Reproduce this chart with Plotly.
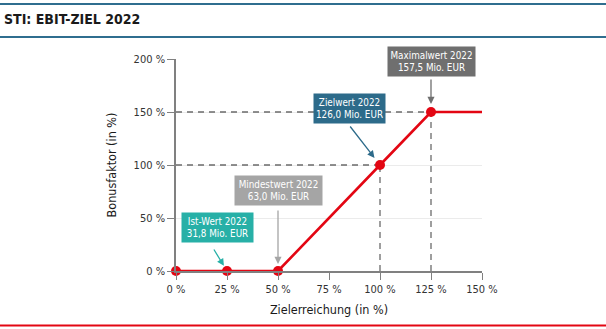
import plotly.graph_objects as go

# Data
x_achievement = [0, 25, 50, 100, 125, 150]
y_bonus = [0, 0, 0, 100, 150, 150]
marker_idx = [0, 1, 2, 3, 4]
x_ticks = [0, 25, 50, 75, 100, 125, 150]
y_ticks = [0, 50, 100, 150, 200]
x_tick_labels = ["0 %", "25 %", "50 %", "75 %", "100 %", "125 %", "150 %"]
y_tick_labels = ["0 %", "50 %", "100 %", "150 %", "200 %"]
labels = ["Ist-Wert 2022<br>31,8 Mio. EUR", "Mindestwert 2022<br>63,0 Mio. EUR",
          "Zielwert 2022<br>126,0 Mio. EUR", "Maximalwert 2022<br>157,5 Mio. EUR"]
label_points = [1, 2, 3, 4]  # indices into the curve

FONT = "Liberation Sans Narrow, DejaVu Sans Condensed, Arial Narrow, sans-serif"
RED = "#e30613"
W, H = 606, 329
L, R, T, B = 176, 124, 59, 58
PW, PH = W - L - R, H - T - B

def px_x(px):
    return (px - L) / PW

def px_y(py):
    return (H - B - py) / PH

fig = go.Figure()

# dashed guide lines for target and max points
tx, ty = x_achievement[3], y_bonus[3]
mx, my = x_achievement[4], y_bonus[4]
for xs, ys in [([0, tx], [ty, ty]), ([tx, tx], [0, ty]),
               ([0, mx], [my, my]), ([mx, mx], [0, my])]:
    fig.add_trace(go.Scatter(x=xs, y=ys, mode="lines", hoverinfo="skip",
                             line=dict(color="#6b6b6b", width=1.3, dash="6px,5px"),
                             showlegend=False, cliponaxis=False))

fig.add_trace(go.Scatter(x=x_achievement, y=y_bonus, mode="lines",
                         line=dict(color=RED, width=2.6), showlegend=False,
                         cliponaxis=False))
fig.add_trace(go.Scatter(x=[x_achievement[i] for i in marker_idx],
                         y=[y_bonus[i] for i in marker_idx], mode="markers",
                         marker=dict(color=RED, size=10), showlegend=False,
                         cliponaxis=False))

box_colors = ["#27b0a7", "#a5a5a5", "#2d6b8a", "#6f6f6f"]
box_w = [71, 87, 71, 87]
shifts = [(-9.5, 43.5), (0, 80.5), (-30.5, 57), (0.5, 51)]
arrows = [(-14, -23, 6), (0, -62, 7), (-31, -40, 9), (0, -34, 8)]

for i, lab in enumerate(labels):
    k = label_points[i]
    xv, yv = x_achievement[k], y_bonus[k]
    fig.add_annotation(x=xv, y=yv, xref="x", yref="y", text=lab, showarrow=False,
                       xshift=shifts[i][0], yshift=shifts[i][1],
                       bgcolor=box_colors[i], width=box_w[i], height=29,
                       borderpad=0, font=dict(family=FONT, size=9.8, color="white"),
                       align="center")
    ax, ay, so = arrows[i]
    fig.add_annotation(x=xv, y=yv, xref="x", yref="y", text="", showarrow=True,
                       ax=ax, ay=ay, standoff=so, arrowhead=2, arrowsize=1.1,
                       arrowwidth=1.3, arrowcolor=box_colors[i])

# decorative rules
rule_shapes = [(4, "#2f6e8f", 2), (37, "#2f6e8f", 2), (325.5, RED, 2)]
for py, col, w in rule_shapes:
    fig.add_shape(type="line", xref="paper", yref="paper", x0=px_x(0), x1=px_x(W),
                  y0=px_y(py), y1=px_y(py), line=dict(color=col, width=w))

fig.update_layout(
    width=W, height=H, margin=dict(l=L, r=R, t=T, b=B),
    paper_bgcolor="white", plot_bgcolor="white",
    font=dict(family=FONT, color="#333333", size=11),
    title=dict(text="<b>STI: EBIT-ZIEL 2022</b>", xref="container", yref="container",
               x=4 / W, y=1 - 19 / H, xanchor="left", yanchor="middle",
               font=dict(family=FONT, size=14, color="#1a1a1a")),
    xaxis=dict(range=[0, 150], tickvals=x_ticks, ticktext=x_tick_labels,
               showgrid=False, zeroline=False, showline=True, linecolor="#808080",
               linewidth=1.5, ticks="outside", ticklen=7, tickcolor="#808080",
               tickwidth=1.3, fixedrange=True,
               title=dict(text="Zielerreichung (in %)", standoff=10,
                          font=dict(family=FONT, size=12.5, color="#1a1a1a"))),
    yaxis=dict(range=[0, 200], tickvals=y_ticks, ticktext=y_tick_labels,
               showgrid=True, gridcolor="#ebebeb", gridwidth=1.2, zeroline=False,
               showline=True, linecolor="#808080", linewidth=1.5, ticks="outside",
               ticklen=7, tickcolor="#808080", tickwidth=1.3, fixedrange=True,
               title=dict(text="Bonusfaktor (in %)", standoff=14,
                          font=dict(family=FONT, size=12.5, color="#1a1a1a"))),
)

fig.write_html("out.html")
